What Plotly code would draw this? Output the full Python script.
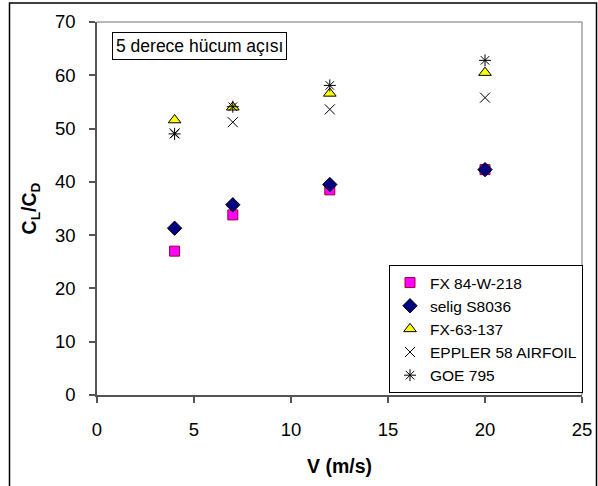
import plotly.graph_objects as go

V = [4, 7, 12, 20]
fx84 = [27.0, 33.8, 38.5, 42.3]
selig = [31.3, 35.7, 39.5, 42.3]
fx63 = [51.6, 54.0, 56.6, 60.5]
eppler = [49.1, 51.2, 53.6, 55.8]
goe = [49.0, 54.1, 58.1, 62.8]

names = ["FX 84-W-218", "selig S8036", "FX-63-137", "EPPLER 58 AIRFOIL", "GOE 795"]

fig = go.Figure()
fig.add_trace(go.Scatter(x=V, y=fx84, mode="markers", name=names[0],
    marker=dict(symbol="square", size=10, color="#ff00ff", line=dict(color="#990033", width=1))))
fig.add_trace(go.Scatter(x=V, y=selig, mode="markers", name=names[1],
    marker=dict(symbol="diamond", size=11, color="#000080", line=dict(color="#000000", width=1))))
fig.add_trace(go.Scatter(x=V, y=fx63, mode="markers", name=names[2],
    marker=dict(symbol="triangle-up", size=11, color="#ffff00", line=dict(color="#000000", width=1))))
fig.add_trace(go.Scatter(x=V, y=eppler, mode="markers", name=names[3],
    marker=dict(symbol="x-thin-open", size=10, color="#000000", line=dict(color="#000000", width=1))))
fig.add_trace(go.Scatter(x=V, y=goe, mode="markers", name=names[4],
    marker=dict(symbol="asterisk-open", size=10, color="#000000", line=dict(color="#000000", width=1))))

L, R, T, B = 97, 582, 22, 395
W, H = 598, 486
pw, ph = R - L, B - T

def px(x):
    return (x - L) / pw

def py(y):
    return (B - y) / ph

fig.update_layout(
    template="none",
    width=W, height=H, autosize=False,
    margin=dict(l=L, r=W - R, t=T, b=H - B, pad=0, autoexpand=False),
    paper_bgcolor="white", plot_bgcolor="white",
    font=dict(family="Liberation Sans, Arial, sans-serif", color="black", size=16),
    showlegend=True,
    legend=dict(x=px(583), y=py(393), xanchor="right", yanchor="bottom",
                bordercolor="black", borderwidth=1, bgcolor="white",
                font=dict(size=15.5), itemwidth=30, tracegroupgap=0),
    xaxis=dict(range=[0, 25], dtick=5, showgrid=False, zeroline=False, automargin=False,
               showline=True, linecolor="#555555", linewidth=1.5,
               ticks="outside", ticklen=6, tickcolor="#555555", tickwidth=1.5,
               ticklabelstandoff=11, tickfont=dict(size=18.5),
               title=dict(text="<b>V (m/s)</b>", font=dict(size=19.5), standoff=20)),
    yaxis=dict(range=[0, 70], dtick=10, showgrid=False, zeroline=False, automargin=False,
               showline=True, linecolor="#555555", linewidth=1.5,
               ticks="outside", ticklen=6, tickcolor="#555555", tickwidth=1.5,
               ticklabelstandoff=10, tickfont=dict(size=18.5),
               title=dict(text="<b>C<sub>L</sub>/C<sub>D</sub></b>", font=dict(size=19.5), standoff=13)),
    shapes=[
        dict(type="line", xref="paper", yref="paper", x0=0, x1=1, y0=1, y1=1,
             line=dict(color="#a0a0a0", width=1.5), layer="above"),
        dict(type="line", xref="paper", yref="paper", x0=1, x1=1, y0=0, y1=1,
             line=dict(color="#a0a0a0", width=1.5), layer="above"),
        dict(type="rect", xref="paper", yref="paper", x0=px(9.5), x1=px(596.5),
             y0=py(492), y1=py(3), line=dict(color="black", width=1.5), layer="above"),
    ],
    annotations=[
        dict(text="5 derece hücum açısı", xref="paper", yref="paper",
             x=px(112), y=py(32), xanchor="left", yanchor="top", showarrow=False,
             font=dict(size=17.5), bordercolor="black", borderwidth=1, borderpad=3,
             bgcolor="white"),
    ],
)

fig.write_html("out.html",
               config={"responsive": False, "displayModeBar": False},
               post_script="document.body.style.margin='0';document.body.style.overflow='hidden';")
